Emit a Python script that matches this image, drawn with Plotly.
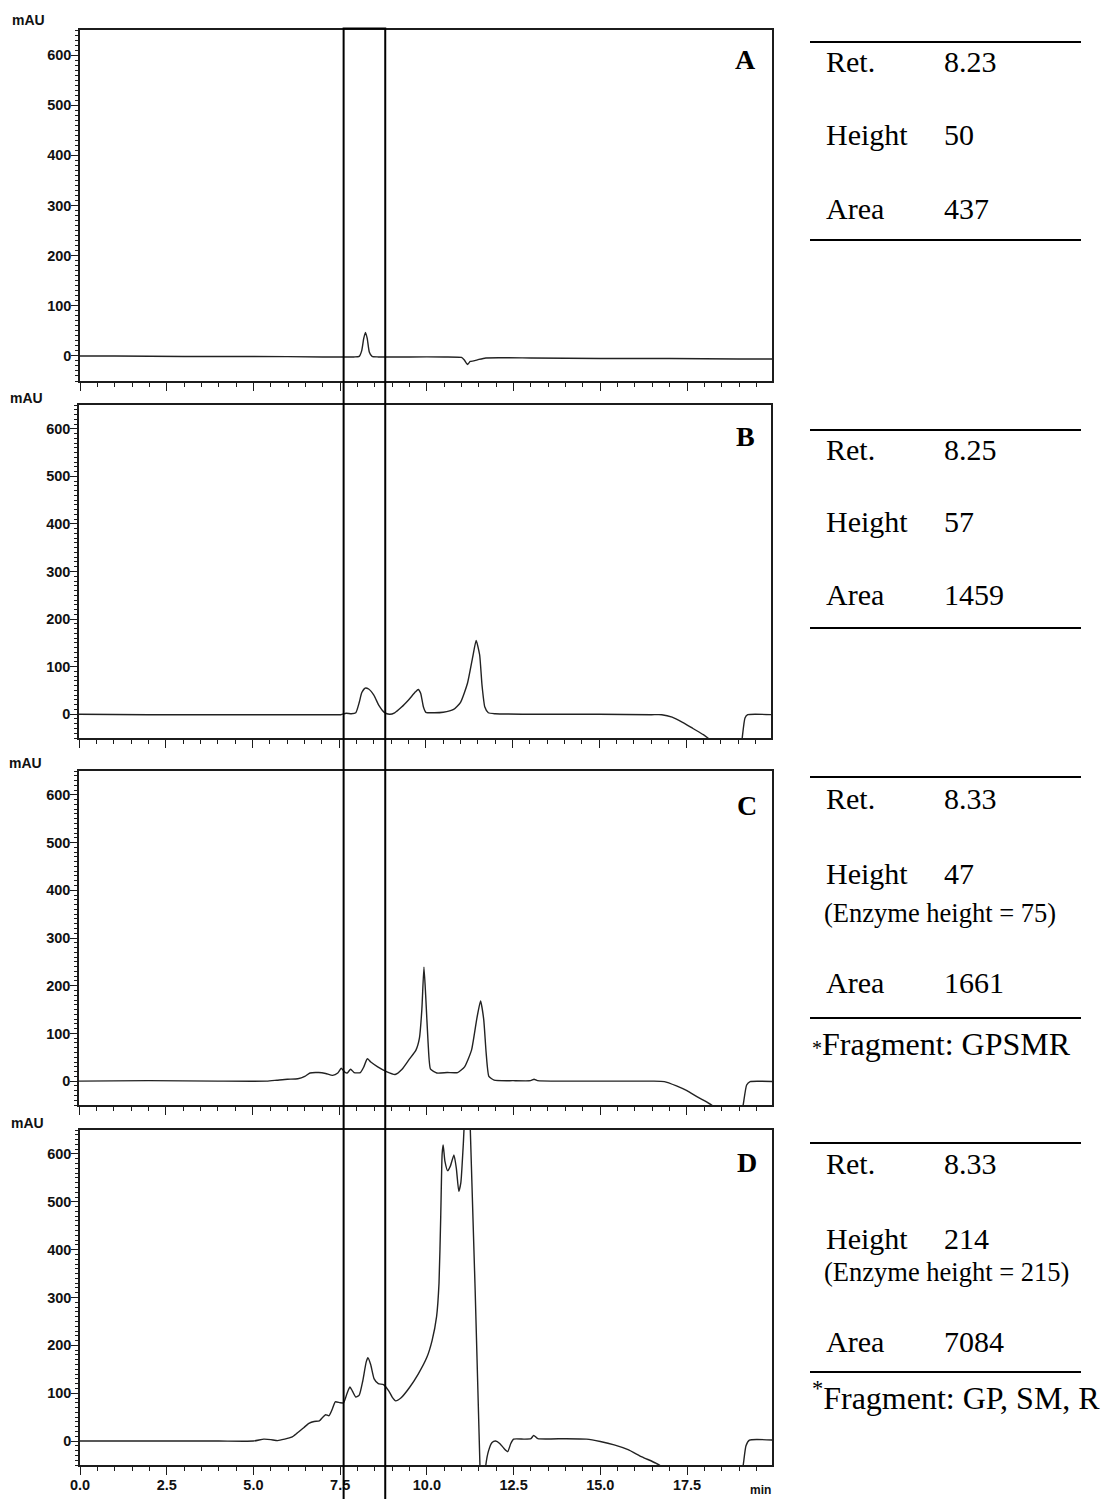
import plotly.graph_objects as go

W, H = 1106, 1499

# ---------------- data ----------------
time_A = [0.0, 1.0, 3.0, 5.0, 7.0, 7.6, 7.9, 8.05, 8.12, 8.18, 8.23, 8.28, 8.34, 8.42, 8.6,
          9.5, 10.5, 11.0, 11.08, 11.17, 11.25, 11.35, 11.5, 11.7, 13.0, 15.0, 17.0, 19.0, 20.0]
mau_A = [0, 0, -1, -1, -2, -2, -2, -1, 10, 35, 47, 35, 8, -1, -2,
         -2, -2, -3, -8, -17, -11, -10, -7, -4, -4, -5, -5, -6, -6]

time_B = [0, 2, 5, 7.0, 7.55, 7.7, 7.85, 7.98, 8.08, 8.15, 8.25, 8.35, 8.5, 8.65, 8.8, 8.95,
          9.1, 9.3, 9.5, 9.7, 9.78, 9.85, 9.93, 10.0, 10.2, 10.5, 10.8, 11.0, 11.2, 11.35, 11.45,
          11.55, 11.62, 11.7, 11.8, 12.0, 13.0, 15.0, 16.5, 16.8, 17.1, 17.4, 17.7, 18.0, 18.13,
          18.3, 18.5, 19.0, 19.08, 19.12, 19.2, 19.28, 20.0]
mau_B = [0, -1, -1, -1, -1, 2, 1, 3, 25, 45, 55, 53, 40, 18, 4, 0,
         3, 15, 30, 47, 52, 44, 15, 4, 3, 4, 10, 25, 65, 120, 155,
         125, 60, 15, 3, 1, 0, 0, -1, -1, -6, -17, -30, -43, -50,
         -60, -75, -75, -75, -50, -8, -1, -1]

time_C = [0, 2, 4, 5.4, 5.7, 6.0, 6.3, 6.5, 6.65, 6.9, 7.1, 7.3, 7.45, 7.55, 7.65, 7.72, 7.82,
          7.92, 8.1, 8.2, 8.3, 8.4, 8.6, 8.85, 9.1, 9.3, 9.5, 9.7, 9.8, 9.87, 9.93, 9.98, 10.05,
          10.12, 10.3, 10.6, 10.9, 11.1, 11.3, 11.45, 11.56, 11.65, 11.72, 11.8, 11.95, 12.5,
          13.0, 13.1, 13.2, 14.0, 16.5, 16.85, 17.2, 17.5, 17.8, 18.1, 18.3, 18.5, 19.05, 19.12,
          19.22, 19.32, 20.0]
mau_C = [0, 1, 0, 0, 2, 4, 5, 10, 17, 18, 16, 12, 17, 27, 19, 17, 25,
         18, 18, 30, 47, 40, 30, 20, 14, 25, 45, 65, 90, 150, 239, 180, 80,
         25, 17, 18, 18, 30, 65, 130, 168, 130, 60, 10, 2, 1,
         1, 4, 1, 0, 0, -1, -10, -20, -33, -45, -55, -75, -75, -50,
         -8, -1, -1]

time_D = [0, 2, 4, 5.0, 5.3, 5.5, 5.7, 5.9, 6.1, 6.25, 6.45, 6.6, 6.75, 6.9, 7.0, 7.08, 7.18,
          7.28, 7.36, 7.5, 7.6, 7.7, 7.78, 7.85, 7.95, 8.05, 8.15, 8.25, 8.3, 8.38, 8.48, 8.6,
          8.75, 8.9, 9.0, 9.1, 9.25, 9.5, 9.75, 10.0, 10.15, 10.28, 10.35, 10.4, 10.44, 10.47,
          10.52, 10.6, 10.68, 10.78, 10.85, 10.92, 10.98, 11.05, 11.1, 11.2, 11.24, 11.53, 11.56,
          11.66, 11.7, 11.78, 11.88, 11.98, 12.1, 12.22, 12.33, 12.42, 12.5, 12.8, 13.0, 13.08,
          13.2, 14.0, 14.6, 15.0, 15.4, 15.8, 16.2, 16.6, 16.8, 17.0, 19.05, 19.12, 19.2, 19.3,
          20.0]
mau_D = [0, 0, 0, 0, 4, 3, 1, 4, 8, 16, 28, 37, 41, 42, 50, 55, 53,
         68, 82, 80, 80, 100, 113, 105, 92, 96, 125, 165, 174, 160, 130, 120,
         118, 105, 92, 84, 90, 112, 140, 175, 210, 260, 330, 470, 600, 619,
         585, 565, 575, 598, 570, 522, 540, 620, 680, 700, 680, -50, -90,
         -90, -50, -20, -3, 0, -5, -15, -22, -5, 4, 4, 5, 12,
         5, 5, 4, -1, -8, -18, -33, -46, -55, -75, -75, -50, -10, 2,
         2]

panel_labels = ["A", "B", "C", "D"]
table_ret = ["8.23", "8.25", "8.33", "8.33"]
table_height = ["50", "57", "47", "214"]
table_area = ["437", "1459", "1661", "7084"]
table_enzyme = [None, None, "75", "215"]
table_fragment = [None, None, "GPSMR", "GP, SM, R"]

x_ticks_label_fmt = ".1f"
box_time = [7.6, 8.8]

# ---------------- layout geometry (pixels) ----------------
panel_px = [  # (left, right, top, bottom)
    (80, 772, 30, 381),
    (79, 771, 405, 738),
    (79, 772, 771, 1105),
    (80, 772, 1130, 1465),
]
table_px = [  # top line, ret, height, enzyme, area, bottom line, fragment
    (42, 62, 135, None, 208, 240, None),
    (430, 450, 521, None, 595, 628, None),
    (777, 798, 873, 913, 982, 1018, 1044),
    (1143, 1163, 1238, 1272, 1341, 1372, 1396),
]
letter_px = [(745, 60), (745, 436), (747, 806), (747, 1162)]
mau_px = [(28, 20), (26, 398), (25, 763), (27, 1123)]


def px(x):
    return x / W


def py(y):
    return 1 - y / H


AX = "#1c1c1c"
SANS = "Liberation Sans, Arial, sans-serif"
TICKFONT = dict(family=SANS, size=14.5, color="#111", weight="bold")
SERIF = "Liberation Serif, Times New Roman, serif"

fig = go.Figure()
times = [time_A, time_B, time_C, time_D]
vals = [mau_A, mau_B, mau_C, mau_D]

layout = dict(
    width=W, height=H, margin=dict(l=0, r=0, t=0, b=0, autoexpand=False),
    paper_bgcolor="white", plot_bgcolor="white", showlegend=False,
)

for i in range(4):
    sfx = "" if i == 0 else str(i + 1)
    fig.add_trace(go.Scatter(
        x=times[i], y=vals[i], mode="lines",
        line=dict(color="#222", width=1.4, shape="spline", smoothing=0.5),
        xaxis="x" + sfx, yaxis="y" + sfx, hoverinfo="skip"))
    l, r, t, b = panel_px[i]
    layout["xaxis" + sfx] = dict(
        domain=[px(l), px(r)], anchor="y" + sfx, range=[0, 19.95], automargin=False,
        showline=True, mirror=True, linecolor=AX, linewidth=1.5,
        ticks="outside", ticklen=8, tickwidth=1.4, tickcolor=AX,
        tick0=0, dtick=2.5, tickformat=x_ticks_label_fmt, ticklabelstandoff=-2,
        minor=dict(ticks="outside", ticklen=4, tickwidth=1.2, tickcolor=AX, dtick=0.5, showgrid=False),
        showgrid=False, zeroline=False, showticklabels=(i == 3), tickfont=TICKFONT,
    )
    layout["yaxis" + sfx] = dict(
        domain=[py(b), py(t)], anchor="x" + sfx, range=[-50, 650], automargin=False,
        showline=True, mirror=True, linecolor=AX, linewidth=1.5,
        ticks="outside", ticklen=7, tickwidth=1.4, tickcolor=AX,
        tick0=0, dtick=100, ticklabelstandoff=-3,
        minor=dict(ticks="outside", ticklen=3, tickwidth=1, tickcolor=AX, dtick=10, showgrid=False),
        showgrid=False, zeroline=False, tickfont=TICKFONT,
    )

fig.update_layout(**layout)

annotations = []
shapes = []

for i in range(4):
    mx, my = mau_px[i]
    annotations.append(dict(text="mAU", x=px(mx), y=py(my), xref="paper", yref="paper",
                            showarrow=False, xanchor="center", yanchor="middle",
                            font=dict(family=SANS, size=14, color="#111", weight="bold")))
    lx, ly = letter_px[i]
    annotations.append(dict(text=panel_labels[i], x=px(lx), y=py(ly), xref="paper", yref="paper",
                            showarrow=False, xanchor="center", yanchor="middle",
                            font=dict(family=SERIF, size=28, color="#000", weight="bold")))

    top, r_ret, r_h, r_enz, r_area, bot, r_frag = table_px[i]
    for yy in (top, bot):
        shapes.append(dict(type="line", xref="paper", yref="paper", x0=px(810), x1=px(1081),
                           y0=py(yy), y1=py(yy), line=dict(color="#000", width=2)))
    rows = [("Ret.", table_ret[i], r_ret), ("Height", table_height[i], r_h),
            ("Area", table_area[i], r_area)]
    for lab, val, yy in rows:
        annotations.append(dict(text=lab, x=px(824), y=py(yy), xref="paper", yref="paper",
                                showarrow=False, xanchor="left", yanchor="middle",
                                font=dict(family=SERIF, size=30, color="#000")))
        annotations.append(dict(text=val, x=px(942), y=py(yy), xref="paper", yref="paper",
                                showarrow=False, xanchor="left", yanchor="middle",
                                font=dict(family=SERIF, size=30, color="#000")))
    if table_enzyme[i] is not None:
        annotations.append(dict(text="(Enzyme height = " + table_enzyme[i] + ")",
                                x=px(822), y=py(r_enz), xref="paper", yref="paper",
                                showarrow=False, xanchor="left", yanchor="middle",
                                font=dict(family=SERIF, size=26.5, color="#000")))
    if table_fragment[i] is not None:
        if i == 2:
            txt = "<span style='font-size:20px'>*</span>Fragment: " + table_fragment[i]
        else:
            txt = "<sup>*</sup>Fragment: " + table_fragment[i]
        annotations.append(dict(text=txt, x=px(810), y=py(r_frag), xref="paper", yref="paper",
                                showarrow=False, xanchor="left", yanchor="middle",
                                font=dict(family=SERIF, size=32, color="#000")))

annotations.append(dict(text="min", x=px(773), y=py(1490), xref="paper", yref="paper",
                        showarrow=False, xanchor="right", yanchor="middle",
                        font=dict(family=SANS, size=12, color="#111", weight="bold")))

shapes.append(dict(type="rect", xref="x4", yref="paper", x0=box_time[0], x1=box_time[1],
                   y0=-0.01, y1=py(28.5), line=dict(color="#000", width=2),
                   fillcolor="rgba(0,0,0,0)", layer="above"))

fig.update_layout(annotations=annotations, shapes=shapes)
fig.write_html("out.html")
